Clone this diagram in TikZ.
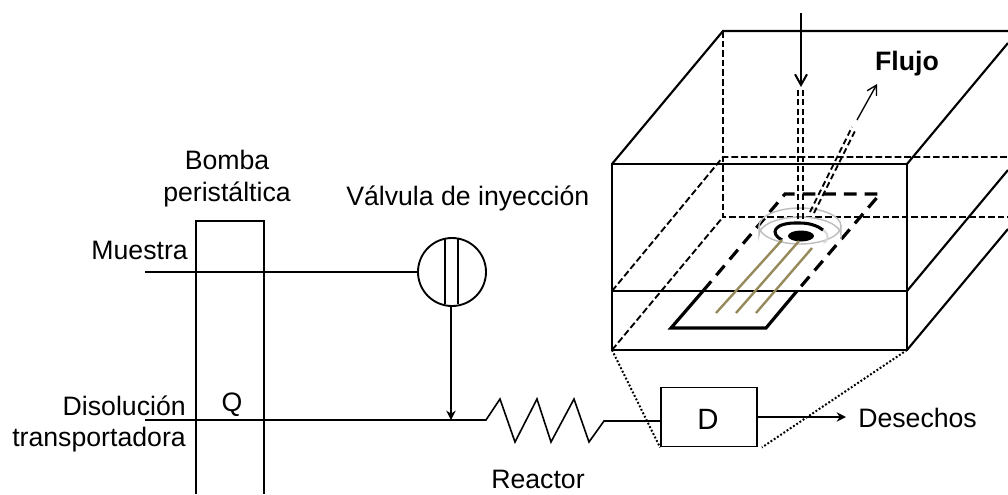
\documentclass[tikz,border=0pt]{standalone}
\usepackage{fontspec}
\setmainfont{Liberation Sans}
\usetikzlibrary{arrows.meta}
\definecolor{wirecol}{RGB}{150,138,90}
\tikzset{x=0.75pt,y=-0.75pt,
 flowline/.style={draw=black,line width=1.2pt},
 boxedge/.style={draw=black,line width=1.6pt},
 hiddenline/.style={draw=black,line width=1.4pt,dash pattern=on 5pt off 2.2pt},
 bigdash/.style={draw=black,line width=2.4pt,dash pattern=on 9.5pt off 6pt},
 beamdash/.style={draw=black,line width=1.4pt,dash pattern=on 4.5pt off 2.6pt},
 dotline/.style={draw=black,line width=1.5pt,dash pattern=on 1.4pt off 1.5pt},
 wirepath/.style={draw=wirecol,line width=1.8pt},
 disc/.style={draw=gray!50,line width=1.1pt},
 lab/.style={font=\fontsize{20pt}{24pt}\selectfont,inner sep=0pt,anchor=base},
 filltip/.style={-{Stealth[length=7pt,width=7pt]}},
 opentip/.style={-{Straight Barb[length=7pt,width=8pt]}}}
\begin{document}
\begin{tikzpicture}
\useasboundingbox (0,0) rectangle (1008,494);
\clip (0,0) rectangle (1008,494);
% coordinates
\coordinate (ftl) at (612,164); \coordinate (ftr) at (907,164);
\coordinate (fml) at (612,291); \coordinate (fmr) at (907,291);
\coordinate (fbl) at (612,350); \coordinate (fbr) at (907,350);
\coordinate (btl) at (723,31);
\coordinate (bml) at (723,157); \coordinate (bbl) at (723,217);
\coordinate (rt) at (1008,31); \coordinate (r1) at (1008,43);
\coordinate (r2) at (1008,170); \coordinate (r3) at (1008,229);
\coordinate (rm) at (1008,157); \coordinate (rb) at (1008,217);
% box
\draw[hiddenline] (btl) -- (bbl) -- (rb);
\draw[hiddenline] (fml) -- (bml) -- (rm);
\draw[hiddenline] (fbl) -- (bbl);
\draw[boxedge] (ftl) -- (btl) -- (rt);
\draw[boxedge] (ftl) rectangle (fbr);
\draw[boxedge] (fml) -- (fmr);
\draw[boxedge] (ftr) -- (r1);
\draw[boxedge] (fmr) -- (r2);
\draw[boxedge] (fbr) -- (r3);
% chip
\coordinate (c1) at (671,328); \coordinate (c2) at (766,328);
\coordinate (c3) at (797,291); \coordinate (c4) at (703,291);
\coordinate (c5) at (785,194); \coordinate (c6) at (880,194);
\draw[boxedge,line width=2.4pt] (c4) -- (c1) -- (c2) -- (c3);
\draw[bigdash] (c4) -- (c5) -- (c6) -- (c3);
% disc
\draw[disc] (800,226) ellipse[x radius=41,y radius=18];
\draw[disc] (759,226) -- (759,235) arc[start angle=180,end angle=360,x radius=41,y radius=18] -- (841,226);
\draw[disc,line width=1.6pt,draw=gray!30] (823,230) .. controls (829,234) and (829,239) .. (824,243);
\draw[black,line width=2.3pt] (782,240) .. controls (770,234) and (772,222) .. (800,223) .. controls (810,223) and (818,226) .. (823,230);
\fill[black] (801,236) ellipse[x radius=13,y radius=5.5];
% wires
\draw[wirepath] (782,240) -- (716,313);
\draw[wirepath] (799,241) -- (736,313);
\draw[wirepath] (812,248) -- (756,313);
% beams
\coordinate (in1) at (801,13); \coordinate (in2) at (801,87);
\draw[black,line width=1.5pt,-{Straight Barb[length=8pt,width=9pt]}] (in1) -- (in2);
\draw[beamdash] (798,90) -- (798,222);
\draw[beamdash] (803,90) -- (803,222);
\draw[beamdash] (810,212) -- (852,127);
\draw[beamdash] (814,213) -- (856,129);
\coordinate (o1) at (857,120); \coordinate (o2) at (877,84);
\draw[black,line width=1pt,opentip] (o1) -- (o2);
\node[lab,font=\fontsize{20pt}{24pt}\selectfont\bfseries] (flujo) at (907,70) {Flujo};
% flow system
\node[draw=black,line width=1.4pt,circle,minimum size=68*0.75pt,inner sep=0pt] (valve) at (452,272) {};
\draw[boxedge,line width=1.3pt] (445,239) -- (445,304);
\draw[boxedge,line width=1.3pt] (458,239) -- (458,304);
\coordinate (pl) at (196,494); \coordinate (pr) at (264,494);
\draw[boxedge,line width=1.3pt] (pl) |- (264,221) -- (pr);
\node[lab] (bomba) at (227,169) {Bomba};
\node[lab] (perist) at (227,201) {peristáltica};
\node[lab,anchor=base west] (valvlab) at (346,205) {Válvula de inyección};
\node[lab,anchor=base east] (muestra) at (188,259) {Muestra};
\node[lab,anchor=base east] (disol) at (186,415) {Disolución};
\node[lab,anchor=base east] (transp) at (186,446) {transportadora};
\node[lab] (q) at (232,411) {Q};
\node[lab] (reactor) at (538,488) {Reactor};
\node[lab,anchor=base west] (desechos) at (858,427) {Desechos};
\node[draw=black,line width=1.4pt,minimum width=96*0.75pt,minimum height=59*0.75pt,inner sep=0pt] (D) at (709,417) {};
\node[lab,font=\fontsize{22pt}{26pt}\selectfont] (dlab) at (708,429) {D};
\coordinate (m0) at (145,272);
\coordinate (t0) at (145,420);
\coordinate (j) at (451,420);
\draw[flowline] (m0) -- (valve.west);
\draw[flowline,filltip] (valve.south -| j) -- (j);
\draw[flowline] (t0) -- (486,420) -- (500,399) -- (515,442) -- (537,399) -- (551,442) -- (574,399) -- (589,442) -- (604,421) -- (D.west |- 0,421);
\coordinate (outend) at (846,417);
\draw[flowline,filltip] (D.east |- outend) -- (outend);
\draw[dotline] (fbl) -- (D.south west);
\draw[dotline] (fbr) -- ([xshift=3pt]D.south east);
\end{tikzpicture}
\end{document}
